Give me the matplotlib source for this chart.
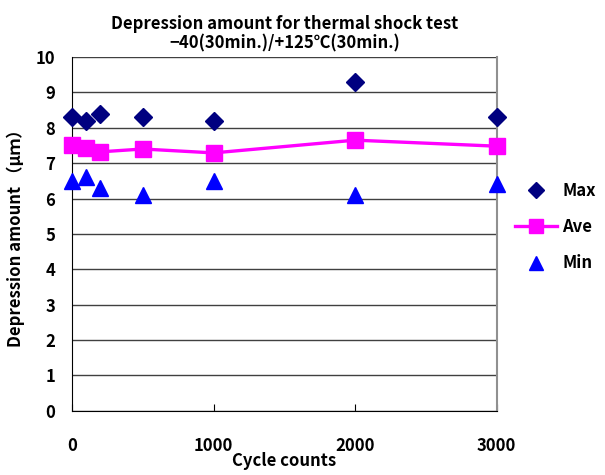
import matplotlib
matplotlib.use("Agg")
import matplotlib.pyplot as plt

plt.rcParams['font.family'] = ['Noto Sans CJK JP', 'DejaVu Sans']

cycles = [0, 100, 200, 500, 1000, 2000, 3000]
max_vals = [8.3, 8.2, 8.4, 8.3, 8.2, 9.3, 8.3]
ave_vals = [7.5, 7.43, 7.32, 7.4, 7.29, 7.65, 7.48]
min_vals = [6.5, 6.6, 6.3, 6.1, 6.5, 6.1, 6.4]

title = "Depression amount for thermal shock test\n−40(30min.)/+125℃(30min.)"
x_label = "Cycle counts"
y_label = "Depression amount （μｍ）"
x_ticks = [0, 1000, 2000, 3000]
y_ticks = list(range(0, 11))

fig = plt.figure(figsize=(6.05, 4.75), dpi=100)
ax = fig.add_axes([0.119, 0.135, 0.702, 0.745])

ax.plot(cycles, max_vals, linestyle='none', marker='D', markersize=9,
        color='#000080', label='Max', clip_on=False, zorder=3)
ax.plot(cycles, ave_vals, linestyle='-', linewidth=2.4, marker='s', markersize=12,
        color='#FF00FF', label='Ave', clip_on=False, zorder=3)
ax.plot(cycles, min_vals, linestyle='none', marker='^', markersize=12,
        color='#0000FF', label='Min', clip_on=False, zorder=3)

ax.set_xlim(0, 3000)
ax.set_ylim(0, 10)
ax.set_xticks(x_ticks)
ax.set_yticks(y_ticks)
ax.yaxis.grid(True, color='#404040', linewidth=1.0)
ax.set_axisbelow(True)

ax.spines['top'].set_visible(False)
ax.spines['right'].set_color('#909090')
ax.spines['right'].set_linewidth(1.5)
ax.spines['left'].set_color('black')
ax.spines['bottom'].set_color('black')

ax.tick_params(axis='x', direction='in', length=5, pad=19, labelsize=12)
ax.tick_params(axis='y', direction='in', length=0, pad=12, labelsize=12)
for lbl in ax.get_xticklabels() + ax.get_yticklabels():
    lbl.set_fontweight('bold')

ax.set_title(title, fontsize=12, fontweight='bold', pad=6, linespacing=1.1)
ax.set_xlabel(x_label, fontsize=12, fontweight='bold', labelpad=-2)
ax.set_ylabel(y_label, fontsize=12, fontweight='bold', labelpad=8)

fig.legend(loc='center left', bbox_to_anchor=(0.852, 0.522), frameon=False,
           prop={'weight': 'bold', 'size': 12}, handlelength=2.5,
           labelspacing=1.1, handletextpad=0.3, borderpad=0, borderaxespad=0,
           markerscale=0.85)

fig.savefig("out.png", dpi=100)
